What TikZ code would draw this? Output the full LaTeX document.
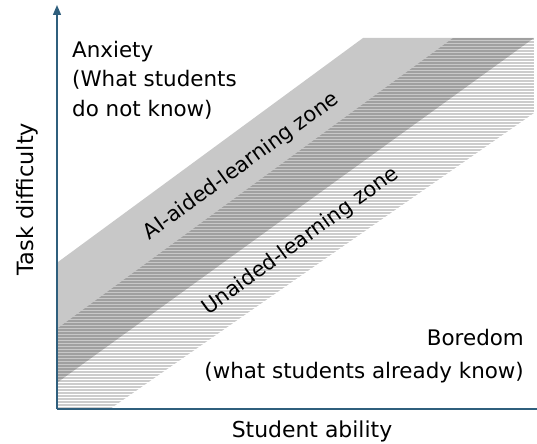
\documentclass[tikz,border=0pt]{standalone}
\usepackage{fontspec}
\setmainfont{DejaVu Sans}
\usetikzlibrary{arrows.meta}
\definecolor{axisblue}{RGB}{47,95,125}
\definecolor{zonegray}{RGB}{200,200,200}
\tikzset{
  axisline/.style={draw=axisblue, line width=1.6bp},
  stripe/.style={draw=black, draw opacity=0.2, line width=1.4bp},
  lbl/.style={inner sep=0pt, font=\fontsize{21.5}{29.5}\selectfont},
  zonelbl/.style={inner sep=0pt, rotate=36, anchor=base, font=\fontsize{21}{25}\selectfont}
}
\begin{document}
\begin{tikzpicture}[x=1bp, y=-1bp]
\useasboundingbox (0,0) rectangle (537,444);
% AI-aided zone (solid gray)
\fill[zonegray] (58,262) -- (363,38) -- (534,38) -- (58,382) -- cycle;
% Unaided zone (horizontal stripes)
\begin{scope}
  \clip (58,328) -- (453,38) -- (534,38) -- (534,113) -- (110,409) -- (58,409) -- cycle;
  \foreach \yy in {39,42,...,408} { \draw[stripe] (58,\yy) -- (535,\yy); }
\end{scope}
% axes
\coordinate (O) at (57,409);
\coordinate (Ytop) at (57,5);
\coordinate (Xend) at (537,409);
\draw[axisline, line width=1.4bp, -{Triangle[width=8bp,length=10bp]}] (O) -- (Ytop);
\draw[axisline, line width=2bp] (O) -- (Xend);
% labels
\node[lbl, anchor=north west, align=left] (anx) at (72,41) {Anxiety\\(What students\\do not know)};
\node[lbl, anchor=north east, align=right, font=\fontsize{21.5}{33}\selectfont] (bor) at (524,329) {Boredom\\(what students already know)};
\node[lbl, anchor=base, font=\fontsize{22}{26}\selectfont] (xlab) at (312,437) {Student ability};
\node[lbl, anchor=base, rotate=90, font=\fontsize{22.5}{26}\selectfont] (ylab) at (33,199) {Task difficulty};
\node[zonelbl] (ai) at (245,171) {AI-aided-learning zone};
\node[zonelbl] (un) at (304,246) {Unaided-learning zone};
\end{tikzpicture}
\end{document}
